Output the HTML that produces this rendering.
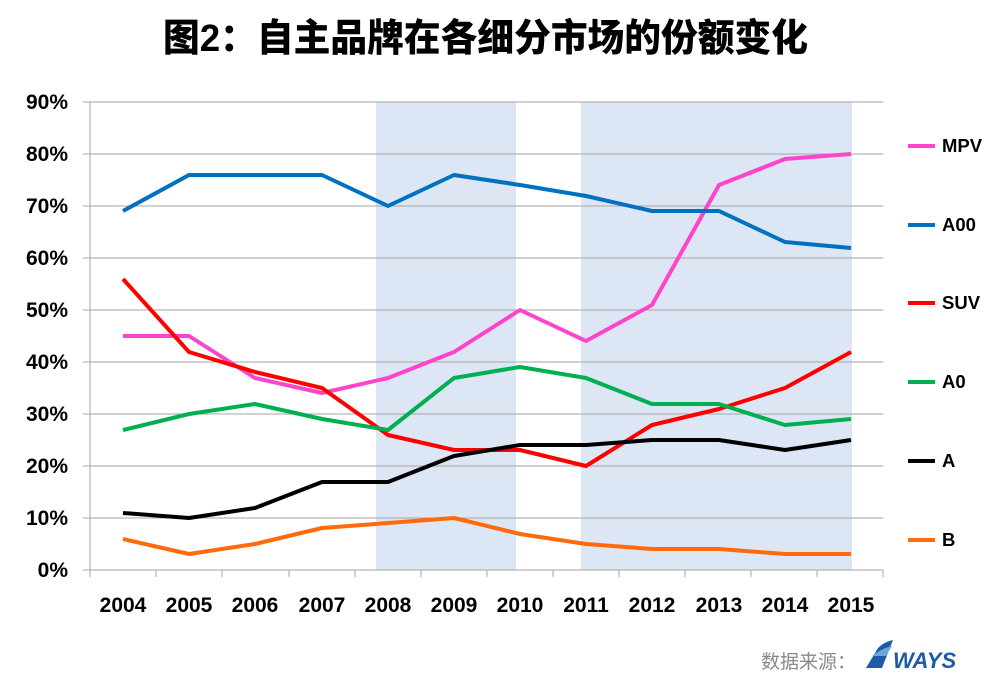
<!DOCTYPE html>
<html><head><meta charset="utf-8"><style>
html,body{margin:0;padding:0;background:#fff;}
svg{display:block;}
text{font-family:"Liberation Sans","Noto Sans CJK SC",sans-serif;}
</style></head><body>
<svg width="1000" height="680" viewBox="0 0 1000 680" xmlns="http://www.w3.org/2000/svg">
<rect width="1000" height="680" fill="#fff"/>
<text x="163" y="51" font-size="38" font-weight="900" textLength="645" lengthAdjust="spacingAndGlyphs" fill="#000">图2：自主品牌在各细分市场的份额变化</text>
<rect x="376" y="102" width="140" height="468" fill="#dce6f4"/>
<rect x="581" y="102" width="271" height="468" fill="#dce6f4"/>
<g stroke="#a6a6a6" stroke-width="1">
<line x1="83" y1="102" x2="883" y2="102"/>
<line x1="83" y1="154" x2="883" y2="154"/>
<line x1="83" y1="206" x2="883" y2="206"/>
<line x1="83" y1="258" x2="883" y2="258"/>
<line x1="83" y1="310" x2="883" y2="310"/>
<line x1="83" y1="362" x2="883" y2="362"/>
<line x1="83" y1="414" x2="883" y2="414"/>
<line x1="83" y1="466" x2="883" y2="466"/>
<line x1="83" y1="518" x2="883" y2="518"/>
<line x1="83" y1="570" x2="883" y2="570"/>
<line x1="90" y1="102" x2="90" y2="577"/>
<line x1="156" y1="570" x2="156" y2="577"/>
<line x1="222" y1="570" x2="222" y2="577"/>
<line x1="289" y1="570" x2="289" y2="577"/>
<line x1="355" y1="570" x2="355" y2="577"/>
<line x1="421" y1="570" x2="421" y2="577"/>
<line x1="487" y1="570" x2="487" y2="577"/>
<line x1="553" y1="570" x2="553" y2="577"/>
<line x1="619" y1="570" x2="619" y2="577"/>
<line x1="685" y1="570" x2="685" y2="577"/>
<line x1="751" y1="570" x2="751" y2="577"/>
<line x1="817" y1="570" x2="817" y2="577"/>
<line x1="883" y1="570" x2="883" y2="577"/>
</g>
<g font-size="21" font-weight="bold" text-anchor="end" fill="#000">
<text x="68" y="109">90%</text><text x="68" y="161">80%</text><text x="68" y="213">70%</text>
<text x="68" y="265">60%</text><text x="68" y="317">50%</text><text x="68" y="369">40%</text>
<text x="68" y="421">30%</text><text x="68" y="473">20%</text><text x="68" y="525">10%</text>
<text x="68" y="577">0%</text>
</g>
<g font-size="21" font-weight="bold" text-anchor="middle" fill="#000">
<text x="123" y="612">2004</text><text x="189" y="612">2005</text><text x="255" y="612">2006</text>
<text x="322" y="612">2007</text><text x="388" y="612">2008</text><text x="454" y="612">2009</text>
<text x="520" y="612">2010</text><text x="586" y="612">2011</text><text x="652" y="612">2012</text>
<text x="719" y="612">2013</text><text x="785" y="612">2014</text><text x="851" y="612">2015</text>
</g>
<g fill="none" stroke-width="4" stroke-linejoin="round">
<polyline stroke="#ff44cc" points="123,336 189,336 255,378 322,393 388,378 454,352 520,310 586,341 652,305 719,185 785,159 851,154"/>
<polyline stroke="#0070c0" points="123,211 189,175 255,175 322,175 388,206 454,175 520,185 586,196 652,211 719,211 785,242 851,248"/>
<polyline stroke="#ff0000" points="123,279 189,352 255,372 322,388 388,435 454,450 520,450 586,466 652,425 719,409 785,388 851,352"/>
<polyline stroke="#00b050" points="123,430 189,414 255,404 322,419 388,430 454,378 520,367 586,378 652,404 719,404 785,425 851,419"/>
<polyline stroke="#000000" points="123,513 189,518 255,508 322,482 388,482 454,456 520,445 586,445 652,440 719,440 785,450 851,440"/>
<polyline stroke="#ff6a0a" points="123,539 189,554 255,544 322,528 388,523 454,518 520,534 586,544 652,549 719,549 785,554 851,554"/>
</g>
<g stroke-width="4">
<line x1="908" y1="146" x2="935" y2="146" stroke="#ff44cc"/>
<line x1="908" y1="225" x2="935" y2="225" stroke="#0070c0"/>
<line x1="908" y1="303" x2="935" y2="303" stroke="#ff0000"/>
<line x1="908" y1="382" x2="935" y2="382" stroke="#00b050"/>
<line x1="908" y1="461" x2="935" y2="461" stroke="#000000"/>
<line x1="908" y1="540" x2="935" y2="540" stroke="#ff6a0a"/>
</g>
<g font-size="18.5" font-weight="bold" fill="#000">
<text x="942" y="152">MPV</text><text x="942" y="231">A00</text><text x="942" y="309">SUV</text>
<text x="942" y="388">A0</text><text x="942" y="467">A</text><text x="942" y="546">B</text>
</g>
<text x="761" y="668" font-size="19" fill="#8a8a8a" font-family="'Noto Serif CJK SC',serif">数据来源：</text>
<path d="M866,668 L878,648 Q884,642 893,640 L882,668 Z" fill="#1e5aa8"/>
<path d="M872,656 Q882,648 892,646 L886,656 Z" fill="#6aa8dc"/>
<text x="893" y="668" font-size="22" font-weight="bold" font-style="italic" fill="#1e5aa8">WAYS</text>
</svg>
</body></html>
